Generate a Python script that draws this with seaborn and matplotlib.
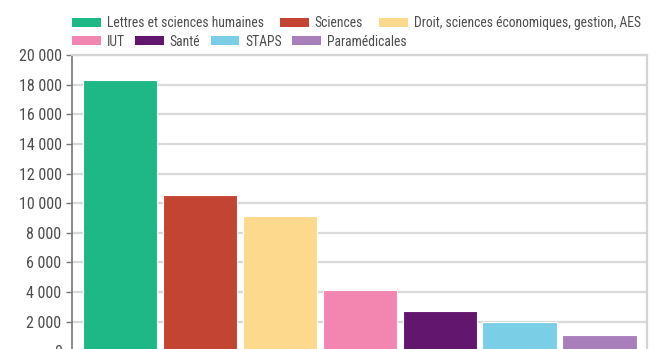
import matplotlib
matplotlib.use("Agg")
import matplotlib.pyplot as plt
from matplotlib.patches import Patch
from matplotlib.ticker import FuncFormatter
import seaborn as sns
import pandas as pd

categories = ["Lettres et sciences humaines", "Sciences",
              "Droit, sciences économiques, gestion, AES",
              "IUT", "Santé", "STAPS", "Paramédicales"]
values = [18300, 10550, 9120, 4150, 2700, 1980, 1080]
colors = ["#1db885", "#c44434", "#fdd98e", "#f386b0", "#63166e", "#7acfe6", "#a87fba"]
yticks = list(range(0, 20001, 2000))

sns.set_style("white")
plt.rcParams["font.family"] = ["Liberation Sans Narrow", "Roboto Condensed",
                               "DejaVu Sans"]
plt.rcParams["font.stretch"] = "condensed"

df = pd.DataFrame({"cat": categories, "val": values})

fig = plt.figure(figsize=(6.55, 3.49), dpi=100)
ax = fig.add_axes([72 / 655, -2.3 / 349, (646.7 - 72) / 655, (351.3 - 55) / 349])

sns.barplot(data=df, x="cat", y="val", hue="cat", palette=colors,
            order=categories, hue_order=categories, legend=False,
            width=0.93, edgecolor="white", linewidth=0.8, saturation=1, ax=ax)

ax.set_xlim(-0.6, 6.59)
ax.set_ylim(0, 20000)
ax.set_yticks(yticks)
ax.yaxis.set_major_formatter(FuncFormatter(lambda v, p: f"{int(v):,}".replace(",", " ")))
ax.set_xticks([])
ax.set_xlabel("")
ax.set_ylabel("")
ax.grid(axis="y", color="#d9d9d9", linewidth=1.6, zorder=0)
ax.set_axisbelow(True)
ax.tick_params(axis="y", direction="out", length=4, width=1, color="#777777",
               labelsize=11.5, labelcolor="#4d4d4d", pad=3.5, left=True)
for s in ["top", "right"]:
    ax.spines[s].set_color("#d4d4d4")
    ax.spines[s].set_linewidth(1.6)
ax.spines["left"].set_color("#777777")
ax.spines["left"].set_linewidth(1.2)
ax.spines["bottom"].set_visible(False)

handles = [Patch(facecolor=c, edgecolor="none") for c in colors]
common = dict(frameon=False, fontsize=9.8, handlelength=2.1, handleheight=0.62,
              handletextpad=0.45, borderpad=0, borderaxespad=0,
              labelcolor="#4d4d4d")
leg1 = fig.legend(handles[:3], categories[:3], ncol=3, loc="upper left",
                  columnspacing=1.2,
                  bbox_to_anchor=(72 / 655, 1 - 16 / 349), **common)
leg2 = fig.legend(handles[3:], categories[3:], ncol=4, loc="upper left",
                  columnspacing=0.75,
                  bbox_to_anchor=(72 / 655, 1 - 34.5 / 349), **common)

fig.savefig("out.png", dpi=100)
